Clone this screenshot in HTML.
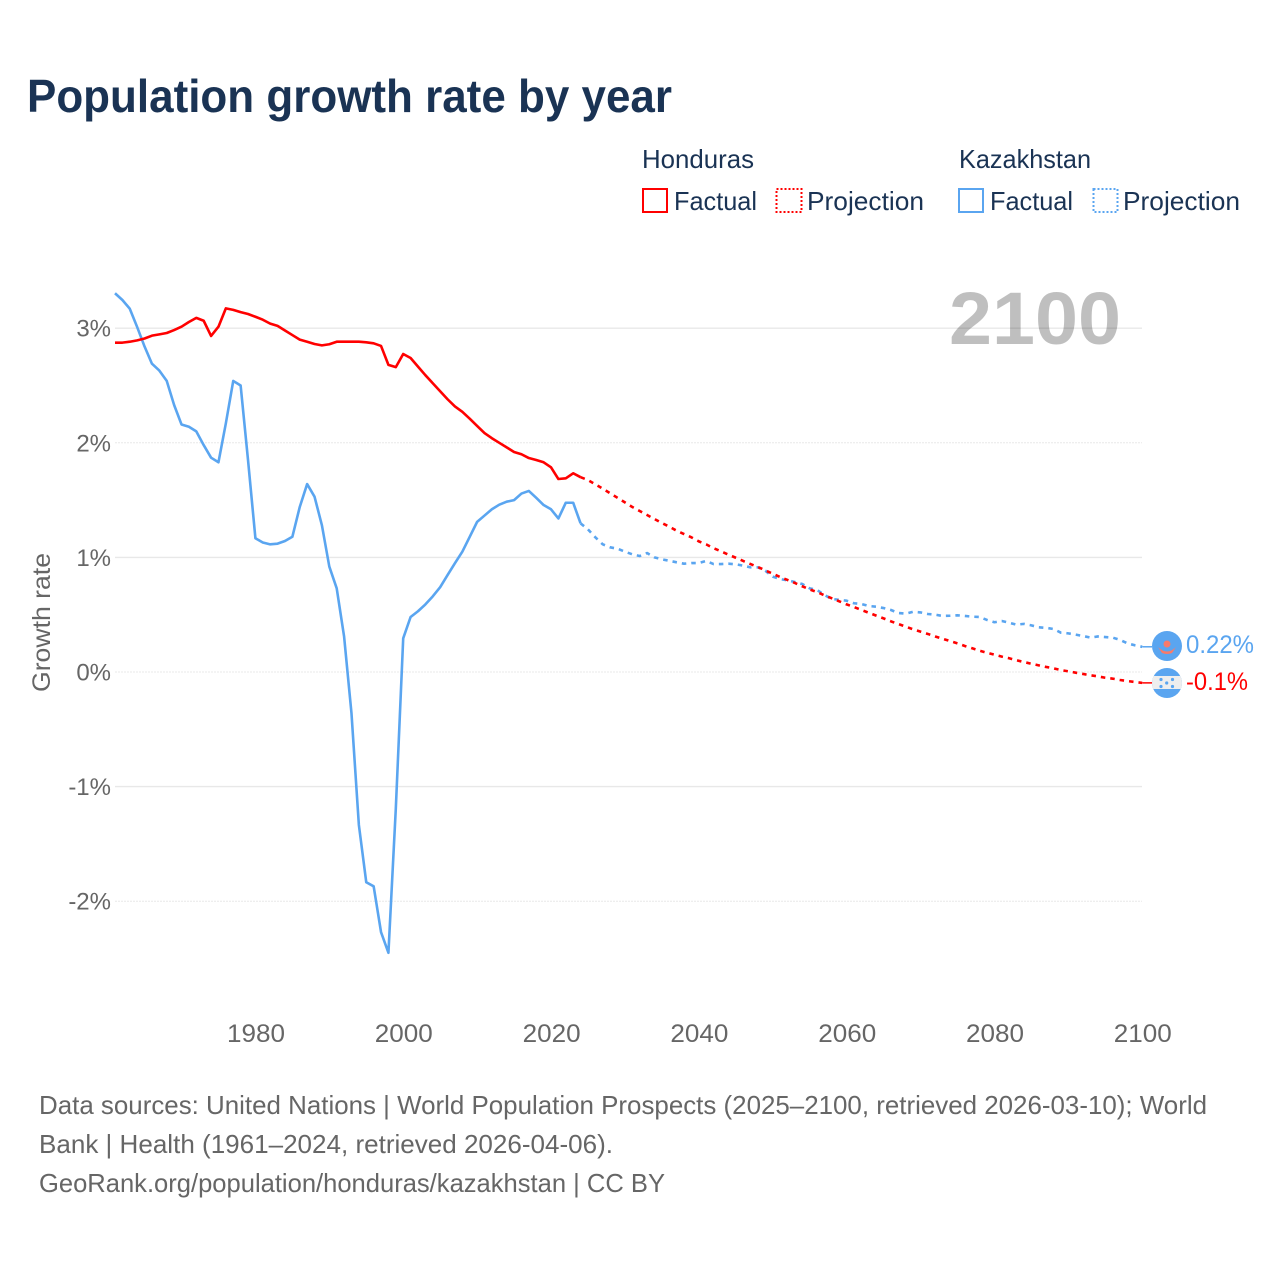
<!DOCTYPE html>
<html>
<head>
<meta charset="utf-8">
<title>Population growth rate by year</title>
<style>
html,body{margin:0;padding:0;background:#fff;}
svg{display:block;font-family:"Liberation Sans",sans-serif;}
</style>
</head>
<body>
<svg id="chart" xmlns="http://www.w3.org/2000/svg" width="1280" height="1280" viewBox="0 0 1280 1280">
  <rect x="0" y="0" width="1280" height="1280" fill="#ffffff"/>
  <text x="27" y="112" font-size="46" font-weight="700" fill="#1a3354" textLength="645" lengthAdjust="spacingAndGlyphs">Population growth rate by year</text>

  <g font-size="26" fill="#1a3354">
    <text x="642" y="168" textLength="112" lengthAdjust="spacingAndGlyphs">Honduras</text>
    <rect x="643" y="189" width="24" height="23" fill="none" stroke="#ff0000" stroke-width="2"/>
    <text x="674" y="210" textLength="83" lengthAdjust="spacingAndGlyphs">Factual</text>
    <rect x="776.5" y="189" width="25" height="23" fill="none" stroke="#ff0000" stroke-width="2" stroke-dasharray="2 2"/>
    <text x="807" y="210" textLength="117" lengthAdjust="spacingAndGlyphs">Projection</text>
    <text x="959" y="168" textLength="132" lengthAdjust="spacingAndGlyphs">Kazakhstan</text>
    <rect x="959" y="189" width="24" height="23" fill="none" stroke="#5aa5f0" stroke-width="2"/>
    <text x="990" y="210" textLength="83" lengthAdjust="spacingAndGlyphs">Factual</text>
    <rect x="1093.5" y="189" width="24" height="23" fill="none" stroke="#5aa5f0" stroke-width="2" stroke-dasharray="2 2"/>
    <text x="1123" y="210" textLength="117" lengthAdjust="spacingAndGlyphs">Projection</text>
  </g>

  <g id="grid"></g>
  <g id="y-ticks" font-size="24" fill="#666666" text-anchor="end"></g>
  <g id="x-ticks" font-size="25" fill="#666666" text-anchor="middle"></g>
  <text transform="translate(50,622.5) rotate(-90)" text-anchor="middle" font-size="25" fill="#666666" textLength="139" lengthAdjust="spacingAndGlyphs">Growth rate</text>

  <text x="949" y="344" font-size="74" font-weight="700" fill="#000000" fill-opacity="0.25" textLength="172" lengthAdjust="spacingAndGlyphs">2100</text>

  <g id="series"></g>

  <g>
    <circle cx="1167" cy="646" r="15" fill="#5aa5f0"/>
    <circle cx="1167" cy="644" r="3.5" fill="#f97a6a"/>
    <path d="M1158 647 Q1167 656 1176 647 L1172 653 Q1167 655 1162 653 Z" fill="#f97a6a"/>
  </g>
  <g>
    <clipPath id="honduras-clip"><circle cx="1167" cy="683" r="15"/></clipPath>
    <circle cx="1167" cy="683" r="15" fill="#5aa5f0"/>
    <rect x="1152" y="676" width="30" height="13" fill="#eeeeee" clip-path="url(#honduras-clip)"/>
    <circle cx="1161" cy="679.5" r="1.6" fill="#5aa5f0"/>
    <circle cx="1172.5" cy="679.5" r="1.6" fill="#5aa5f0"/>
    <circle cx="1166.7" cy="683" r="1.6" fill="#5aa5f0"/>
    <circle cx="1161" cy="686.5" r="1.6" fill="#5aa5f0"/>
    <circle cx="1172.5" cy="686.5" r="1.6" fill="#5aa5f0"/>
  </g>
  <text id="label-kaz" x="1186" y="653" font-size="25" fill="#5aa5f0" textLength="68" lengthAdjust="spacingAndGlyphs">0.22%</text>
  <text id="label-hon" x="1186" y="690" font-size="25" fill="#ff0000" textLength="62" lengthAdjust="spacingAndGlyphs">-0.1%</text>

  <g font-size="26" fill="#666666">
    <text x="39" y="1114" textLength="1168" lengthAdjust="spacingAndGlyphs">Data sources: United Nations | World Population Prospects (2025–2100, retrieved 2026-03-10); World</text>
    <text x="39" y="1153" textLength="574" lengthAdjust="spacingAndGlyphs">Bank | Health (1961–2024, retrieved 2026-04-06).</text>
    <text x="39" y="1192" textLength="626" lengthAdjust="spacingAndGlyphs">GeoRank.org/population/honduras/kazakhstan | CC BY</text>
  </g>
</svg>
<script>
var factualStartYear = 1961;
var projectionStartYear = 2024;
var yTickValues = [3, 2, 1, 0, -1, -2];
var yTickLabels = ["3%", "2%", "1%", "0%", "-1%", "-2%"];
var xTickYears = [1980, 2000, 2020, 2040, 2060, 2080, 2100];
var hondurasFactual = [
  2.874, 2.874, 2.882, 2.894, 2.91, 2.935, 2.946, 2.958, 2.984, 3.013,
  3.054, 3.09, 3.065, 2.932, 3.013, 3.173, 3.16, 3.14, 3.124, 3.10,
  3.074, 3.04, 3.02, 2.98, 2.94, 2.90, 2.882, 2.862, 2.85, 2.86,
  2.882, 2.882, 2.882, 2.882, 2.877, 2.868, 2.845, 2.68, 2.66, 2.775,
  2.74, 2.665, 2.59, 2.52, 2.45, 2.38, 2.317, 2.27, 2.21, 2.147,
  2.085, 2.04, 2.0, 1.96, 1.92, 1.90, 1.867, 1.85, 1.83, 1.786,
  1.684, 1.69, 1.734, 1.70
];
var hondurasProjection = [
  1.70, 1.675, 1.638, 1.60, 1.56, 1.52, 1.48, 1.44, 1.405, 1.37, 1.335,
  1.30, 1.268, 1.233, 1.204, 1.175, 1.14, 1.114, 1.08, 1.053, 1.024,
  0.997, 0.969, 0.942, 0.916, 0.887, 0.858, 0.829, 0.803, 0.777, 0.748,
  0.72, 0.698, 0.669, 0.643, 0.617, 0.59, 0.567, 0.541, 0.517, 0.492,
  0.468, 0.442, 0.419, 0.396, 0.372, 0.352, 0.332, 0.31, 0.29, 0.27,
  0.25, 0.227, 0.207, 0.186, 0.168, 0.151, 0.134, 0.12, 0.102, 0.087,
  0.072, 0.058, 0.044, 0.032, 0.017, 0.006, -0.006, -0.017, -0.029, -0.038,
  -0.05, -0.058, -0.07, -0.079, -0.087, -0.095
];
var kazakhstanFactual = [
  3.305, 3.246, 3.17, 3.01, 2.84, 2.69, 2.63, 2.54, 2.33, 2.16,
  2.14, 2.10, 1.98, 1.87, 1.83, 2.17, 2.54, 2.50, 1.85, 1.167,
  1.13, 1.114, 1.12, 1.143, 1.18, 1.44, 1.64, 1.53, 1.28, 0.92,
  0.73, 0.31, -0.36, -1.335, -1.835, -1.87, -2.27, -2.45, -1.19, 0.294,
  0.48, 0.53, 0.59, 0.66, 0.74, 0.846, 0.95, 1.05, 1.18, 1.31,
  1.365, 1.42, 1.46, 1.486, 1.50, 1.557, 1.58, 1.52, 1.457, 1.42,
  1.34, 1.477, 1.477, 1.297
];
var kazakhstanProjection = [
  1.297, 1.245, 1.175, 1.114, 1.088, 1.076, 1.05, 1.027, 1.012, 1.038, 1.0,
  0.983, 0.971, 0.957, 0.945, 0.951, 0.951, 0.969, 0.942, 0.942, 0.945,
  0.94, 0.928, 0.913, 0.913, 0.884, 0.832, 0.811, 0.80, 0.785, 0.768,
  0.73, 0.716, 0.672, 0.637, 0.63, 0.622, 0.60, 0.593, 0.576, 0.57,
  0.558, 0.541, 0.515, 0.509, 0.526, 0.52, 0.506, 0.50, 0.489, 0.491,
  0.495, 0.489, 0.483, 0.48, 0.454, 0.434, 0.445, 0.43, 0.413, 0.42,
  0.407, 0.39, 0.385, 0.375, 0.343, 0.337, 0.326, 0.314, 0.30, 0.31,
  0.305, 0.30, 0.28, 0.25, 0.233, 0.22
];

var NS = "http://www.w3.org/2000/svg";
function xScale(year) { return 115 + (year - 1961) * 7.39; }
function yScale(value) { return 672 - value * 114.6; }
function make(tag, parent) {
  var el = document.createElementNS(NS, tag);
  parent.appendChild(el);
  return el;
}
function linePath(values, startYear) {
  var d = "";
  for (var i = 0; i < values.length; i++) {
    d += (i === 0 ? "M" : "L") + xScale(startYear + i).toFixed(2) + " " + yScale(values[i]).toFixed(2);
  }
  return d;
}

var gridGroup = document.getElementById("grid");
var yTickGroup = document.getElementById("y-ticks");
yTickValues.forEach(function (v, i) {
  var line = make("line", gridGroup);
  
  
  line.setAttribute("x1", 115);
  line.setAttribute("x2", 1142);
  line.setAttribute("y1", yScale(v));
  line.setAttribute("y2", yScale(v));
  line.setAttribute("stroke", "#e8e8e8");
  line.setAttribute("stroke-width", i % 2 === 0 ? "1.4" : "1");
  if (i % 2 === 1) line.setAttribute("stroke-dasharray", "2 1");
  var label = make("text", yTickGroup);
  
  
  label.setAttribute("x", 111);
  label.setAttribute("y", yScale(v) + 8.5);
  label.textContent = yTickLabels[i];
});

var xTickGroup = document.getElementById("x-ticks");
xTickYears.forEach(function (year) {
  var label = make("text", xTickGroup);
  
  
  label.setAttribute("x", xScale(year) + 0.6);
  label.setAttribute("y", 1042);
  label.setAttribute("textLength", "58");
  label.setAttribute("lengthAdjust", "spacingAndGlyphs");
  label.textContent = String(year);
});

var seriesGroup = document.getElementById("series");
function addSeries(values, startYear, color, dashed, name) {
  var path = make("path", seriesGroup);
  
  
  path.setAttribute("d", linePath(values, startYear));
  path.setAttribute("fill", "none");
  path.setAttribute("stroke", color);
  path.setAttribute("stroke-width", "2.6");
  path.setAttribute("stroke-linejoin", "round");
  if (dashed) path.setAttribute("stroke-dasharray", "4.5 5");
}
addSeries(kazakhstanFactual, factualStartYear, "#5aa5f0", false, "line-kazakhstan-factual");
addSeries(hondurasFactual, factualStartYear, "#ff0000", false, "line-honduras-factual");
addSeries(kazakhstanProjection, projectionStartYear, "#5aa5f0", true, "line-kazakhstan-projection");
addSeries(hondurasProjection, projectionStartYear, "#ff0000", true, "line-honduras-projection");

function addConnector(value, color, name) {
  var line = make("line", seriesGroup);
  
  
  line.setAttribute("x1", xScale(2100));
  line.setAttribute("x2", 1152);
  line.setAttribute("y1", yScale(value));
  line.setAttribute("y2", yScale(value));
  line.setAttribute("stroke", color);
  line.setAttribute("stroke-width", "1.5");
}
addConnector(kazakhstanProjection[kazakhstanProjection.length - 1], "#5aa5f0", "connector-kazakhstan");
addConnector(hondurasProjection[hondurasProjection.length - 1], "#ff0000", "connector-honduras");
</script>
</body>
</html>
